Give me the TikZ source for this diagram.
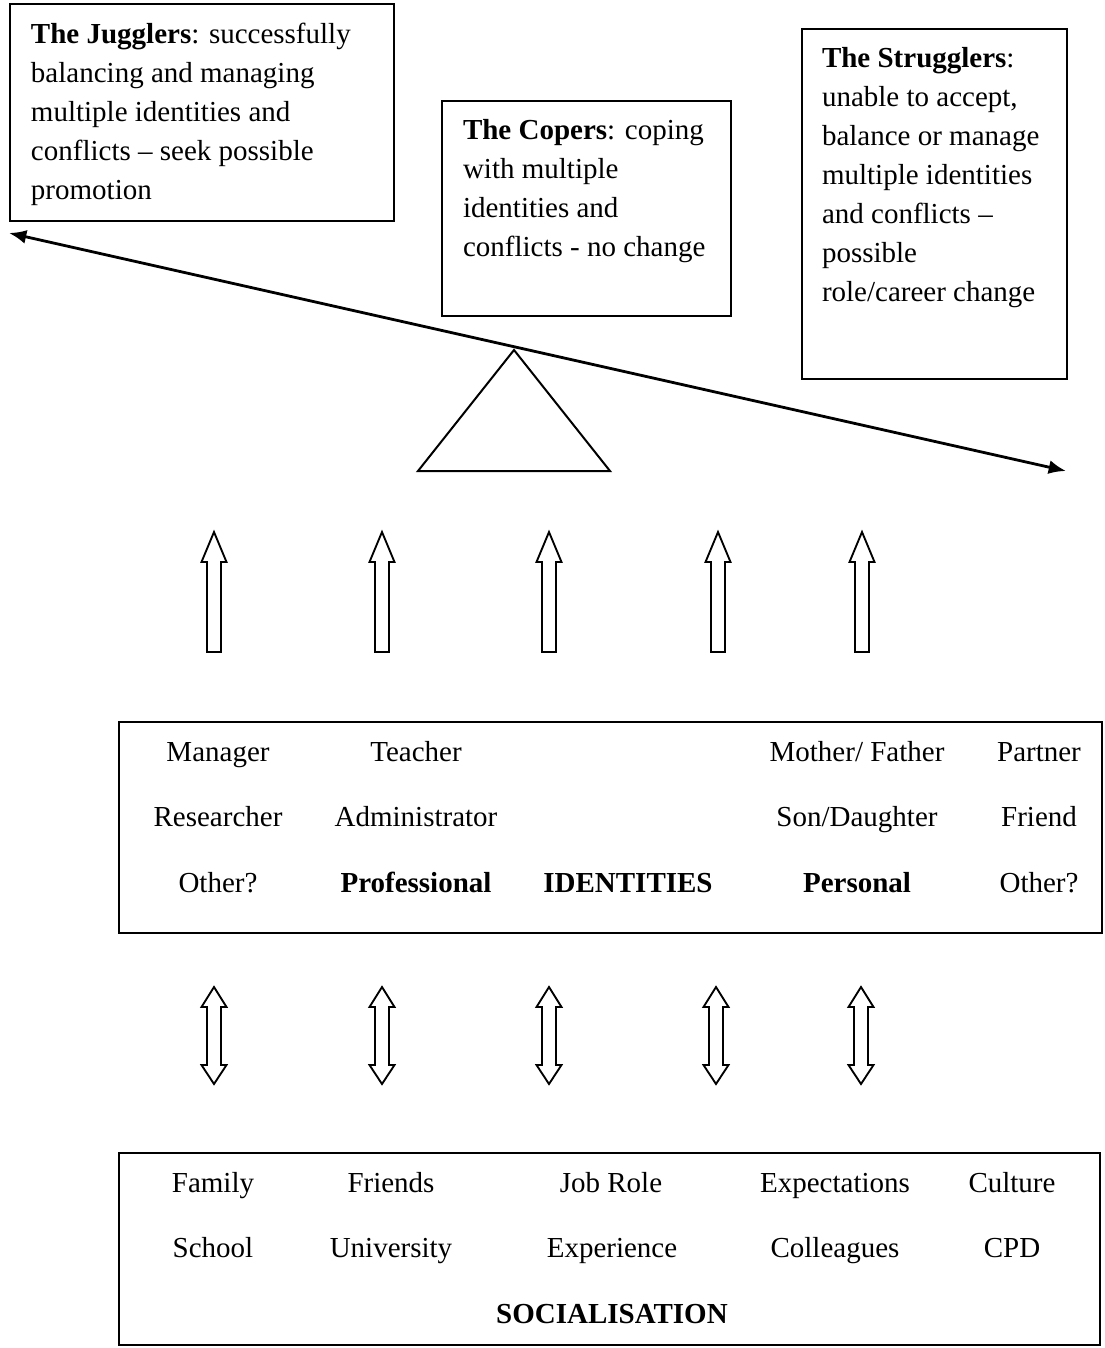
\documentclass[tikz,border=0pt]{standalone}
\usepackage{fontspec}
\setmainfont{Liberation Serif}
\usetikzlibrary{arrows.meta,fit}
\begin{document}
\begin{tikzpicture}[x=0.75pt,y=-0.75pt,
  every node/.style={font=\fontsize{21.75pt}{29.25pt}\selectfont, inner sep=0pt, outer sep=0pt},
  frame/.style={draw, line width=1.5pt, inner sep=0pt},
  lbl/.style={anchor=base},
  para/.style={align=left, anchor=north west},
  block/.style={draw, line width=1.4pt, line join=miter},
  lever/.style={line width=2.1pt, {Latex[length=13pt,width=10.5pt]}-{Latex[length=13pt,width=10.5pt]}},
  fulcrum/.style={draw, line width=1.5pt, line join=miter}]
\fill[white] (0,0) rectangle (1104,1348);
\useasboundingbox (0,0) rectangle (1104,1348);
% top boxes
\node[frame, fit={(10,4) (394,221)}] (jbox) {};
\node[para] (jtext) at (31,21.7) {\rule{0pt}{16pt}\textbf{The Jugglers}: successfully\\balancing and managing\\multiple identities and\\conflicts -- seek possible\\promotion};
\node[frame, fit={(442,101) (731,316)}] (cbox) {};
\node[para] (ctext) at (463,117.7) {\rule{0pt}{16pt}\textbf{The Copers}: coping\\with multiple\\identities and\\conflicts - no change};
\node[frame, fit={(802,29) (1067,379)}] (sbox) {};
\node[para] (stext) at (822,45.7) {\rule{0pt}{16pt}\textbf{The Strugglers}:\\unable to accept,\\balance or manage\\multiple identities\\and conflicts --\\possible\\role/career change};
% lever and fulcrum
\coordinate (lvl) at (9,233);
\coordinate (lvr) at (1066,471);
\draw[lever] (lvl) -- (lvr);
\coordinate (apex) at (514,350);
\coordinate (bl) at (418,471);
\coordinate (br) at (610,471);
\draw[fulcrum] (apex) -- (bl) -- (br) -- cycle;
% up arrows
\foreach \cx in {214,382,549,718,862}{
  \draw[block] (\cx,532) -- (\cx+12.5,562) -- (\cx+7,562) -- (\cx+7,652) -- (\cx-7,652) -- (\cx-7,562) -- (\cx-12.5,562) -- cycle;
}
% identities box
\node[frame, fit={(119,722) (1102,933)}] (ibox) {};
\node[lbl] (i11) at (218,761) {Manager};
\node[lbl] (i12) at (416,761) {Teacher};
\node[lbl] (i14) at (857,761) {Mother/ Father};
\node[lbl] (i15) at (1039,761) {Partner};
\node[lbl] (i21) at (218,826) {Researcher};
\node[lbl] (i22) at (416,826) {Administrator};
\node[lbl] (i24) at (857,826) {Son/Daughter};
\node[lbl] (i25) at (1039,826) {Friend};
\node[lbl] (i31) at (218,892) {Other?};
\node[lbl] (i32) at (416,892) {\textbf{Professional}};
\node[lbl] (i33) at (628,892) {\textbf{IDENTITIES}};
\node[lbl] (i34) at (857,892) {\textbf{Personal}};
\node[lbl] (i35) at (1039,892) {Other?};
% double arrows
\foreach \cx in {214,382,549,716,861}{
  \draw[block] (\cx,987) -- (\cx+12.5,1007) -- (\cx+7,1007) -- (\cx+7,1065) -- (\cx+12.5,1065) -- (\cx,1084) -- (\cx-12.5,1065) -- (\cx-7,1065) -- (\cx-7,1007) -- (\cx-12.5,1007) -- cycle;
}
% socialisation box
\node[frame, fit={(119,1153) (1100,1345)}] (sobox) {};
\node[lbl] (s11) at (213,1192) {Family};
\node[lbl] (s12) at (391,1192) {Friends};
\node[lbl] (s13) at (611,1192) {Job Role};
\node[lbl] (s14) at (835,1192) {Expectations};
\node[lbl] (s15) at (1012,1192) {Culture};
\node[lbl] (s21) at (213,1257) {School};
\node[lbl] (s22) at (391,1257) {University};
\node[lbl] (s23) at (612,1257) {Experience};
\node[lbl] (s24) at (835,1257) {Colleagues};
\node[lbl] (s25) at (1012,1257) {CPD};
\node[lbl] (s33) at (612,1323) {\textbf{SOCIALISATION}};
\end{tikzpicture}
\end{document}
